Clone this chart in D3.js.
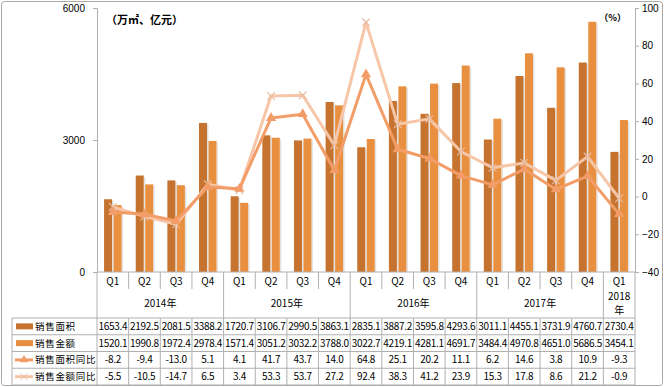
<!DOCTYPE html>
<html>
<head>
<meta charset="utf-8">
<script src="https://cdn.jsdelivr.net/npm/d3@7"></script>
<style>
  body { margin: 0; background: #fff; }
  text { font-family: "Noto Sans CJK SC", "Noto Sans", sans-serif; }
</style>
</head>
<body>
<div id="chart"></div>
<script>
const width = 664;
const height = 387;

// data
const quarters = ["Q1","Q2","Q3","Q4","Q1","Q2","Q3","Q4","Q1","Q2","Q3","Q4","Q1","Q2","Q3","Q4","Q1"];
const years = ["2014年","2015年","2016年","2017年","2018年"];
const yearSpans = [4, 4, 4, 4, 1];
const area = [1653.4,2192.5,2081.5,3388.2,1720.7,3106.7,2990.5,3863.1,2835.1,3887.2,3595.8,4293.6,3011.1,4455.1,3731.9,4760.7,2730.4];
const amount = [1520.1,1990.8,1972.4,2978.4,1571.4,3051.2,3032.2,3788.0,3022.7,4219.1,4281.1,4691.7,3484.4,4970.8,4651.0,5686.5,3454.1];
const areaYoy = [-8.2,-9.4,-13.0,5.1,4.1,41.7,43.7,14.0,64.8,25.1,20.2,11.1,6.2,14.6,3.8,10.9,-9.3];
const amountYoy = [-5.5,-10.5,-14.7,6.5,3.4,53.3,53.7,27.2,92.4,38.3,41.2,23.9,15.3,17.8,8.6,21.2,-0.9];
const leftTicks = [0, 3000, 6000];
const rightTicks = [-40, -20, 0, 20, 40, 60, 80, 100];
const seriesNames = ["销售面积", "销售金额", "销售面积同比", "销售金额同比"];

const c1 = "#C5732F", c2 = "#E98F40", c3 = "#F29D68", c4 = "#F7C6A8";
const gridColor = "#B0B0B0";

const plotLeft = 97, plotRight = 635, plotTop = 8, plotBottom = 272;
const tableTop = 318, rowH = 16.75, legendLeft = 12;

const svg = d3.select("#chart").append("svg")
    .attr("width", width).attr("height", height);

// outer frame
svg.append("rect")
    .attr("x", 1.5).attr("y", 1.5)
    .attr("width", width - 3).attr("height", height - 3)
    .attr("rx", 3)
    .attr("fill", "#fff").attr("stroke", "#A8A8A8");

const idx = d3.range(quarters.length);
const x = d3.scaleBand().domain(idx).range([plotLeft, plotRight]);
const yL = d3.scaleLinear().domain([0, 6000]).range([plotBottom, plotTop]);
const yR = d3.scaleLinear().domain([-40, 100]).range([plotBottom, plotTop]);

// axes
const axL = svg.append("g").attr("transform", `translate(${plotLeft},0)`)
    .call(d3.axisLeft(yL).tickValues(leftTicks).tickFormat(d3.format("d")).tickSize(4).tickPadding(8));
const axR = svg.append("g").attr("transform", `translate(${plotRight},0)`)
    .call(d3.axisRight(yR).tickValues(rightTicks).tickSize(4).tickPadding(3));
[axL, axR].forEach(a => {
    a.select(".domain").attr("stroke", gridColor);
    a.selectAll(".tick line").attr("stroke", gridColor);
    a.selectAll("text").attr("fill", "#000").style("font-size", "10px")
        .style("font-family", "'Liberation Sans', sans-serif");
});

// bars
const bw = 8, gap = 1.5;
const off = (x.bandwidth() - (bw * 2 + gap)) / 2;

function bars(data, color, shift) {
    const g = svg.append("g");
    g.selectAll("rect.sh").data(data).enter().append("rect")
        .attr("x", (d, i) => x(i) + off + shift + bw)
        .attr("y", d => yL(d) + 1.5)
        .attr("width", 1.5)
        .attr("height", d => plotBottom - yL(d) - 1.5)
        .attr("fill", "#E2E2E2");
    g.selectAll("rect.bar").data(data).enter().append("rect")
        .attr("x", (d, i) => x(i) + off + shift)
        .attr("y", d => yL(d))
        .attr("width", bw)
        .attr("height", d => plotBottom - yL(d))
        .attr("fill", color);
}
bars(area, c1, 0);
bars(amount, c2, bw + gap);

// lines
const cx = i => x(i) + x.bandwidth() / 2;
const line = d3.line().x((d, i) => cx(i)).y(d => yR(d));

svg.append("path").datum(amountYoy).attr("d", line)
    .attr("fill", "none").attr("stroke", c4).attr("stroke-width", 3).attr("stroke-linejoin", "round");
svg.append("g").selectAll("path").data(amountYoy).enter().append("path")
    .attr("d", d3.symbol(d3.symbolX, 40))
    .attr("transform", (d, i) => `translate(${cx(i)},${yR(d)})`)
    .attr("stroke", "#E9BDA3").attr("stroke-width", 1.2).attr("fill", "none");

svg.append("path").datum(areaYoy).attr("d", line)
    .attr("fill", "none").attr("stroke", c3).attr("stroke-width", 3).attr("stroke-linejoin", "round");
svg.append("g").selectAll("path").data(areaYoy).enter().append("path")
    .attr("d", d3.symbol(d3.symbolTriangle, 45))
    .attr("transform", (d, i) => `translate(${cx(i)},${yR(d)})`)
    .attr("fill", c3);

// unit labels
svg.append("text").attr("x", 106).attr("y", 24)
    .style("font-size", "11px").style("font-weight", "bold").text("（万㎡、亿元）");
svg.append("text").attr("x", 626).attr("y", 21).attr("text-anchor", "end")
    .style("font-size", "9px").style("font-weight", "bold").text("（%）");

// category area / table
const grid = svg.append("g").attr("stroke", gridColor).attr("stroke-width", 1);
grid.append("line").attr("x1", plotLeft).attr("x2", plotRight).attr("y1", plotBottom).attr("y2", plotBottom);

// quarter labels and separators
svg.append("g").selectAll("text").data(quarters).enter().append("text")
    .attr("x", (d, i) => cx(i)).attr("y", 285)
    .attr("text-anchor", "middle").style("font-size", "10px").text(d => d);

let start = 0;
const yearStarts = yearSpans.map(s => { const v = start; start += s; return v; });
idx.forEach(i => {
    if (i === 0) return;
    const isYear = yearStarts.includes(i);
    grid.append("line").attr("x1", x(i)).attr("x2", x(i))
        .attr("y1", plotBottom).attr("y2", isYear ? height - 2 : 289);
    if (!isYear) {
        grid.append("line").attr("x1", x(i)).attr("x2", x(i))
            .attr("y1", tableTop).attr("y2", height - 2);
    }
});
grid.append("line").attr("x1", plotLeft).attr("x2", plotLeft).attr("y1", plotBottom).attr("y2", height - 2);
grid.append("line").attr("x1", plotRight).attr("x2", plotRight).attr("y1", plotBottom).attr("y2", height - 2);

// year labels
years.forEach((y, k) => {
    const mid = (x(yearStarts[k]) + x(yearStarts[k] + yearSpans[k] - 1) + x.bandwidth()) / 2;
    if (yearSpans[k] === 1) {
        svg.append("text").attr("x", mid).attr("y", 300).attr("text-anchor", "middle")
            .style("font-size", "10px").text(y.replace("年", ""));
        svg.append("text").attr("x", mid).attr("y", 314).attr("text-anchor", "middle")
            .style("font-size", "10px").text("年");
    } else {
        svg.append("text").attr("x", mid).attr("y", 307).attr("text-anchor", "middle")
            .style("font-size", "10px").text(y);
    }
});

// table rows
const rows = [area, amount, areaYoy, amountYoy];
d3.range(rows.length + 1).forEach(r => {
    grid.append("line").attr("x1", legendLeft).attr("x2", plotRight)
        .attr("y1", tableTop + r * rowH).attr("y2", tableTop + r * rowH);
});
grid.append("line").attr("x1", legendLeft).attr("x2", legendLeft)
    .attr("y1", tableTop).attr("y2", tableTop + rows.length * rowH);

rows.forEach((vals, r) => {
    const yMid = tableTop + r * rowH + rowH / 2;
    svg.append("g").selectAll("text").data(vals).enter().append("text")
        .attr("x", (d, i) => cx(i)).attr("y", yMid + 3.5)
        .attr("text-anchor", "middle").style("font-size", "10px")
        .style("letter-spacing", "-0.3px")
        .text(d => d.toFixed(1));

    // legend keys
    if (r < 2) {
        svg.append("rect").attr("x", 16).attr("y", yMid - 3).attr("width", 17).attr("height", 6)
            .attr("fill", r === 0 ? c1 : c2);
    } else {
        const col = r === 2 ? c3 : c4;
        svg.append("line").attr("x1", 15).attr("x2", 33).attr("y1", yMid).attr("y2", yMid)
            .attr("stroke", col).attr("stroke-width", 3);
        svg.append("path")
            .attr("d", d3.symbol(r === 2 ? d3.symbolTriangle : d3.symbolX, 30))
            .attr("transform", `translate(24,${yMid})`)
            .attr("fill", r === 2 ? col : "none")
            .attr("stroke", r === 2 ? "none" : "#E9BDA3");
    }
    svg.append("text").attr("x", 35).attr("y", yMid + 3.5)
        .style("font-size", "9.5px").style("letter-spacing", "0.7px")
        .text(seriesNames[r]);
});
</script>
</body>
</html>
